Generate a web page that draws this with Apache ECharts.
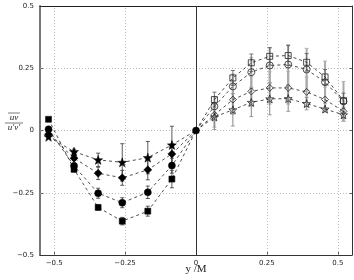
<!DOCTYPE html>
<html><head><meta charset="utf-8">
<script src="https://cdn.jsdelivr.net/npm/echarts@6/dist/echarts.min.js"></script>
<style>html,body{margin:0;padding:0;background:#fff}#c{width:354px;height:280px}</style>
</head><body><div id="c"></div>
<script>
// Left side (filled markers)
const xLeft = [-0.52, -0.43, -0.345, -0.26, -0.17, -0.085];
const sqLeft = [0.045, -0.156, -0.309, -0.364, -0.324, -0.195];
const ciLeft = [0.005, -0.142, -0.252, -0.290, -0.248, -0.141];
const diLeft = [-0.015, -0.111, -0.172, -0.190, -0.158, -0.094];
const stLeft = [-0.025, -0.085, -0.118, -0.128, -0.109, -0.058];
const sqLeftErr = [0.0, 0.01, 0.01, 0.015, 0.02, 0.035];
const ciLeftErr = [0.0, 0.01, 0.02, 0.02, 0.025, 0.03];
const diLeftErr = [0.0, 0.01, 0.025, 0.03, 0.04, 0.035];
const stLeftErr = [0.0, 0.01, 0.027, 0.075, 0.065, 0.075];
// Right side (open markers)
const xRight = [0.065, 0.13, 0.195, 0.26, 0.325, 0.39, 0.455, 0.52];
const sqRight = [0.124, 0.211, 0.272, 0.298, 0.301, 0.274, 0.215, 0.120];
const ciRight = [0.097, 0.177, 0.234, 0.261, 0.265, 0.245, 0.194, 0.117];
const diRight = [0.063, 0.124, 0.157, 0.171, 0.171, 0.155, 0.124, 0.077];
const stRight = [0.054, 0.083, 0.113, 0.127, 0.128, 0.108, 0.086, 0.063];
const sqRightErr = [0.03, 0.03, 0.035, 0.035, 0.04, 0.035, 0.03, 0.03];
const ciRightErr = [0.04, 0.05, 0.06, 0.07, 0.08, 0.085, 0.085, 0.08];
const diRightErr = [0.05, 0.06, 0.06, 0.065, 0.065, 0.06, 0.05, 0.04];
const stRightErr = [0.05, 0.065, 0.057, 0.064, 0.051, 0.025, 0.003, 0.013];
const xTicks = [-0.5, -0.25, 0, 0.25, 0.5];
const yTicks = [-0.5, -0.25, 0, 0.25, 0.5];
const xTickLabels = ['\u22120.5', '\u22120.25', '0', '0.25', '0.5'];
const yTickLabels = ['\u22120.5', '\u22120.25', '0', '0.25', '0.5'];

const STAR = 'path://M0,-10 L2.35,-3.24 9.51,-3.09 3.8,1.24 5.88,8.09 0,4 -5.88,8.09 -3.8,1.24 -9.51,-3.09 -2.35,-3.24Z';

function pts(xs, ys, originFirst) {
  const d = xs.map((x, i) => [x, ys[i]]);
  const o = {value: [0, 0], symbol: 'none'};
  return originFirst ? [o].concat(d) : d.concat([o]);
}
function lineSeries(xs, ys, symbol, size, filled, originFirst, keepOrigin) {
  const data = pts(xs, ys, originFirst);
  if (keepOrigin) data.forEach(p => { if (p.symbol) delete p.symbol; });
  return {
    type: 'line', data: data, symbol: symbol, symbolSize: size, z: 5,
    lineStyle: {color: '#222', width: 0.8, type: [3, 3]},
    itemStyle: filled ? {color: '#000', borderColor: '#000', borderWidth: 0.5}
                      : {color: 'rgba(255,255,255,0)', borderColor: '#222', borderWidth: 0.8},
    animation: false, silent: true
  };
}
function errSeries(xs, ys, es, color, width) {
  return {
    type: 'custom', z: 3, silent: true, animation: false,
    data: xs.map((x, i) => [x, ys[i], es[i]]).filter(d => d[2] > 0),
    renderItem: function (params, api) {
      const x = api.value(0), y = api.value(1), e = api.value(2);
      const top = api.coord([x, y + e]), bot = api.coord([x, y - e]);
      const w = 2;
      const st = {stroke: color, lineWidth: width};
      return {type: 'group', children: [
        {type: 'line', shape: {x1: top[0], y1: top[1], x2: bot[0], y2: bot[1]}, style: st},
        {type: 'line', shape: {x1: top[0] - w, y1: top[1], x2: top[0] + w, y2: top[1]}, style: {stroke: color, lineWidth: 0.8}},
        {type: 'line', shape: {x1: bot[0] - w, y1: bot[1], x2: bot[0] + w, y2: bot[1]}, style: {stroke: color, lineWidth: 0.8}}
      ]};
    }
  };
}

const gridLines = {
  type: 'line', data: [], silent: true, animation: false,
  markLine: {
    silent: true, symbol: 'none', label: {show: false}, animation: false,
    data: [
      {xAxis: -0.5, lineStyle: {color: '#aaa', type: [1, 2], width: 0.8}},
      {xAxis: -0.25, lineStyle: {color: '#aaa', type: [1, 2], width: 0.8}},
      {xAxis: 0.25, lineStyle: {color: '#aaa', type: [1, 2], width: 0.8}},
      {xAxis: 0.5, lineStyle: {color: '#aaa', type: [1, 2], width: 0.8}},
      {yAxis: 0.25, lineStyle: {color: '#aaa', type: [1, 2], width: 0.8}},
      {yAxis: 0, lineStyle: {color: '#aaa', type: [1, 2], width: 0.8}},
      {yAxis: -0.25, lineStyle: {color: '#aaa', type: [1, 2], width: 0.8}},
      {xAxis: 0, lineStyle: {color: '#333', type: 'solid', width: 1}}
    ]
  }
};

const axisCommon = {
  axisLine: {show: true, onZero: false, lineStyle: {color: '#333', width: 1}},
  splitLine: {show: false},
  axisTick: {show: true, inside: true, length: 3, lineStyle: {color: '#333', width: 0.8}},
  axisLabel: {fontSize: 7, color: '#222', fontFamily: 'DejaVu Sans'}
};

const chart = echarts.init(document.getElementById('c'), null, {renderer: 'canvas'});
chart.setOption({
  animation: false,
  grid: {left: 40, right: 2, top: 6, bottom: 25},
  xAxis: [Object.assign({}, axisCommon, {
    type: 'value', min: -0.55, max: 0.55,
    axisTick: Object.assign({}, axisCommon.axisTick, {customValues: xTicks}),
    axisLabel: Object.assign({}, axisCommon.axisLabel, {customValues: xTicks, margin: 5,
      formatter: v => xTickLabels[xTicks.indexOf(+v.toFixed(2))]})
  }), {
    type: 'value', position: 'top', min: -0.55, max: 0.55,
    axisLine: {show: true, onZero: false, lineStyle: {color: '#222', width: 1.2}},
    axisTick: {show: false}, axisLabel: {show: false}, splitLine: {show: false}
  }],
  yAxis: [Object.assign({}, axisCommon, {
    type: 'value', min: -0.5, max: 0.5,
    axisLine: {show: true, onZero: false, lineStyle: {color: '#777', width: 2}},
    axisTick: Object.assign({}, axisCommon.axisTick, {customValues: yTicks}),
    axisLabel: Object.assign({}, axisCommon.axisLabel, {customValues: yTicks, margin: 6,
      formatter: v => yTickLabels[yTicks.indexOf(+v.toFixed(2))]})
  }), {
    type: 'value', position: 'right', min: -0.5, max: 0.5,
    axisLine: {show: true, onZero: false, lineStyle: {color: '#333', width: 1}},
    axisTick: {show: true, inside: true, length: 3, customValues: yTicks, lineStyle: {color: '#333', width: 0.8}},
    axisLabel: {show: false}, splitLine: {show: false}
  }],
  graphic: [
    {type: 'line', shape: {x1: 8, y1: 113, x2: 20, y2: 113}, style: {stroke: '#222', lineWidth: 0.6}},
    {type: 'text', x: 14, y: 118, style: {text: 'uv', font: 'italic 9px "Liberation Serif"', fill: '#222', align: 'center', verticalAlign: 'middle'}},
    {type: 'line', shape: {x1: 5, y1: 123, x2: 23, y2: 123}, style: {stroke: '#222', lineWidth: 0.6}},
    {type: 'text', x: 14, y: 128, style: {text: 'u\u2032v\u2032', font: 'italic 9px "Liberation Serif"', fill: '#222', align: 'center', verticalAlign: 'middle'}},
    {type: 'text', x: 196, y: 269, style: {text: 'y /M', font: '11px "Liberation Serif"', fill: '#222', align: 'center', verticalAlign: 'middle'}}
  ],
  series: [
    gridLines,
    errSeries(xRight, ciRight, ciRightErr, '#aaa', 2),
    errSeries(xRight, diRight, diRightErr, '#aaa', 2),
    errSeries(xRight, stRight, stRightErr, '#888', 1),
    errSeries(xRight, sqRight, sqRightErr, '#555', 0.8),
    errSeries(xLeft, sqLeft, sqLeftErr, '#333', 0.8),
    errSeries(xLeft, ciLeft, ciLeftErr, '#333', 0.8),
    errSeries(xLeft, diLeft, diLeftErr, '#333', 0.8),
    errSeries(xLeft, stLeft, stLeftErr, '#333', 0.8),
    lineSeries(xLeft, sqLeft, 'rect', 6, true, false, false),
    lineSeries(xLeft, ciLeft, 'circle', 7, true, false, true),
    lineSeries(xLeft, diLeft, 'diamond', 8, true, false, false),
    lineSeries(xLeft, stLeft, STAR, 9, true, false, false),
    lineSeries(xRight, sqRight, 'rect', 6, false, true, false),
    lineSeries(xRight, ciRight, 'circle', 7, false, true, false),
    lineSeries(xRight, diRight, 'diamond', 7, false, true, false),
    lineSeries(xRight, stRight, STAR, 8, false, true, false)
  ]
});
</script></body></html>
